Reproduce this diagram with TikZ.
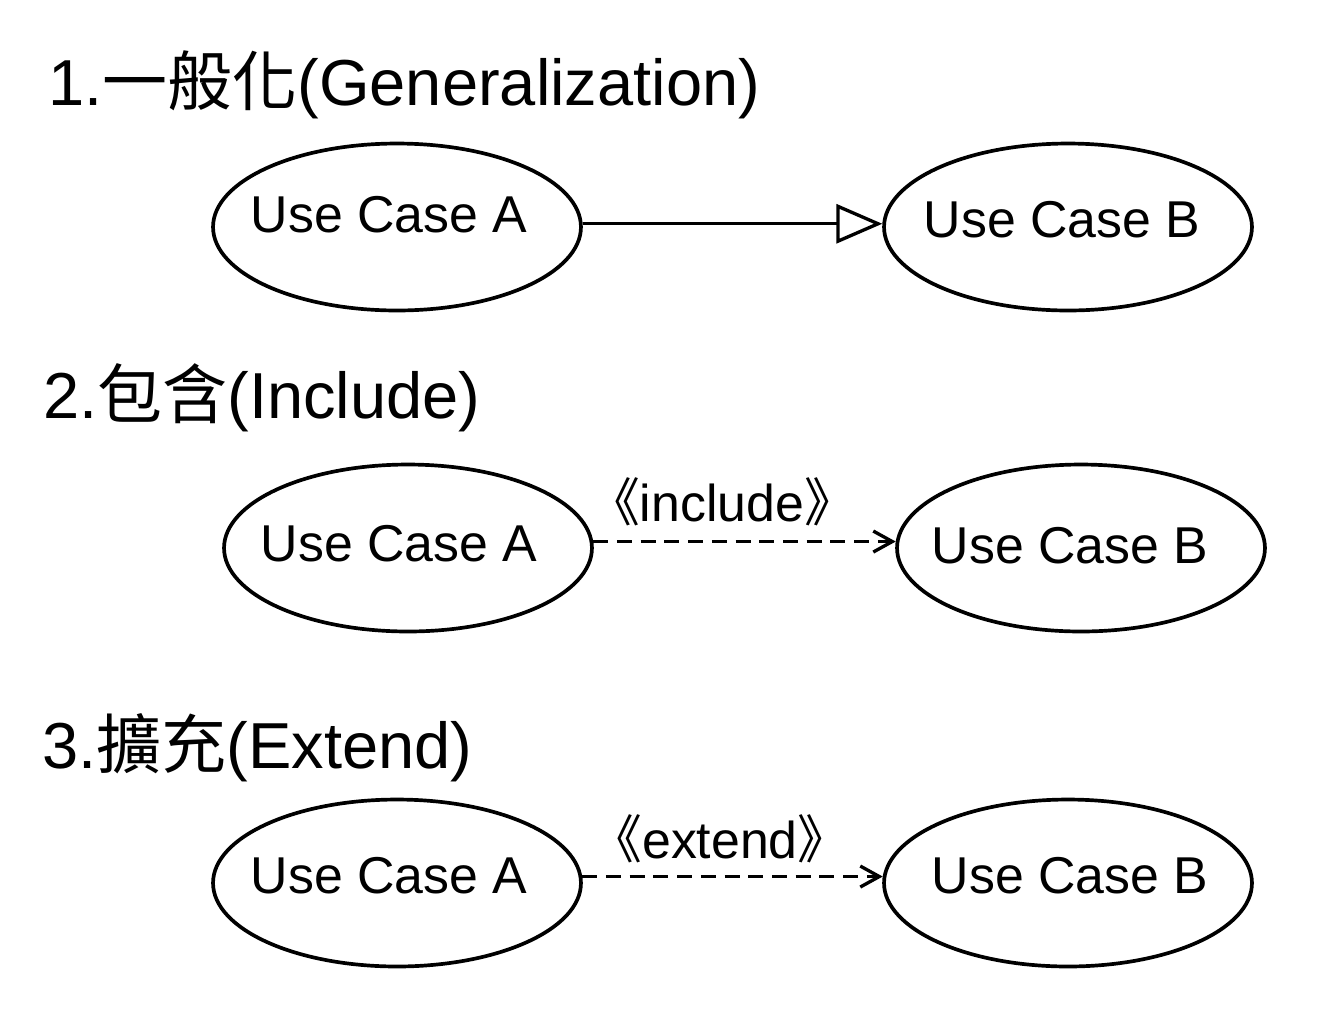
\documentclass[tikz,border=0pt]{standalone}
\usepackage{fontspec}
\setmainfont{Liberation Sans}
\newfontfamily\cjk{Noto Sans CJK TC}
\usetikzlibrary{arrows.meta, shapes.geometric}

\tikzset{
  usecase/.style={ellipse, draw, line width=2.1pt, minimum width=7.36cm, minimum height=3.34cm, inner sep=0pt},
  uctext/.style={anchor=base, inner sep=0pt, font=\fontsize{29.5}{35}\selectfont},
  heading/.style={anchor=base west, inner sep=0pt, font=\fontsize{37}{44}\selectfont},
  gen/.style={line width=1.9pt, -{Triangle[open, length=0.92cm, width=0.78cm]}},
  dep/.style={line width=1.9pt, dash pattern=on 8.5pt off 5pt, -{Straight Barb[length=0.38cm, width=0.42cm]}}
}

\begin{document}
\begin{tikzpicture}[x=0.02cm, y=-0.02cm]
\useasboundingbox (0,0) rectangle (1342,1012);

\node[heading] (t1) at (48,105) {1.{\cjk 一般化}(Generalization)};
\node[usecase] (gA) at (397,227) {};
\node[usecase] (gB) at (1068,227) {};
\node[uctext] (gAt) at (389,232) {Use Case A};
\node[uctext] (gBt) at (1062,237) {Use Case B};
\draw[gen] (gA.1) -- (gB.179);

\node[heading] (t2) at (43,418) {2.{\cjk 包含}(Include)};
\node[usecase] (iA) at (408,548) {};
\node[usecase] (iB) at (1081,548) {};
\node[uctext] (iAt) at (399,561) {Use Case A};
\node[uctext] (iBt) at (1070,563) {Use Case B};
\draw[dep] (iA.2) -- (iB.178);
\node[uctext] (iLab) at (722,521) {{\cjk 《}include{\cjk 》}};

\node[heading] (t3) at (42,768) {3.{\cjk 擴充}(Extend)};
\node[usecase] (eA) at (397,883) {};
\node[usecase] (eB) at (1068,883) {};
\node[uctext] (eAt) at (389,893) {Use Case A};
\node[uctext] (eBt) at (1070,893) {Use Case B};
\draw[dep] (eA.2) -- (eB.178);
\node[uctext] (eLab) at (720,858) {{\cjk 《}extend{\cjk 》}};
\end{tikzpicture}
\end{document}
